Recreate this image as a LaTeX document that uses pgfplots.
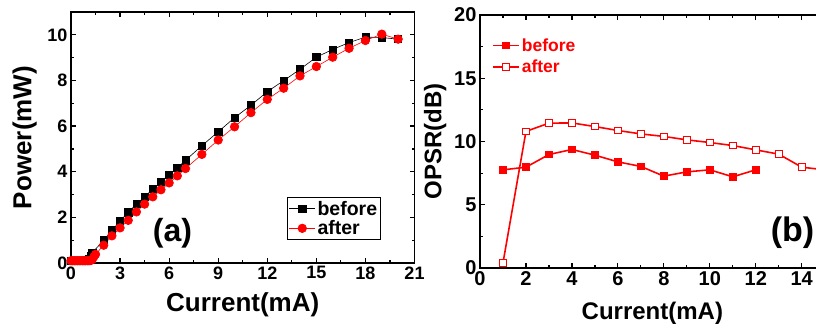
\documentclass[border=0pt]{standalone}
\usepackage{pgfplots}
\pgfplotsset{compat=1.18}
\usepackage{fontspec}
\setmainfont{Liberation Sans}

\definecolor{pred}{RGB}{255,0,0}

\pgfplotsset{
  origin/.style={
    scale only axis,
    axis line style={line width=1.5pt},
    tick align=inside,
    major tick length=5pt,
    minor tick length=3pt,
    every tick/.style={black,line width=1.2pt},
    minor tick num=1,
    /pgf/number format/assume math mode=true,
    legend cell align=left,
    legend image code/.code={
      \draw[mark repeat=2,mark phase=2,##1]
        plot coordinates {(0pt,0pt) (13pt,0pt) (26pt,0pt)};},
  }
}

\begin{document}
\begin{tikzpicture}
\useasboundingbox (0,0) rectangle (816pt,330pt);
\clip (0,0) rectangle (816pt,330pt);

% ---------- (a) output power ----------
\begin{axis}[origin,
  at={(71pt,67pt)}, anchor=south west,
  width=343.5pt, height=251pt,
  xmin=0, xmax=21, ymin=0, ymax=11,
  xtick={0,3,...,21}, ytick={0,2,...,10},
  tick label style={font=\fontsize{18}{18}\selectfont\bfseries},
  label style={font=\fontsize{26}{26}\selectfont\bfseries},
  xlabel={Current(mA)}, ylabel={Power(mW)},
  every axis x label/.append style={at={(axis description cs:0.5,-0.165)},anchor=center},
  every axis y label/.append style={at={(axis description cs:-0.135,0.5)},anchor=center,rotate=0},
  legend style={at={(axis description cs:0.629,0.263)},anchor=north west,
    draw=black,line width=0.8pt,font=\fontsize{19.5}{19.5}\selectfont\bfseries,
    inner sep=1.5pt,row sep=0pt},
]
\addplot[black,line width=0.6pt,mark=square*,mark size=3.6pt,mark options={solid}]
coordinates {
(0,0.1)(0.1,0.1)(0.2,0.1)(0.3,0.1)(0.4,0.1)(0.5,0.1)(0.6,0.1)(0.7,0.1)(0.8,0.1)(0.9,0.1)
(1.0,0.12)(1.1,0.2)(1.2,0.32)(1.3,0.45)
(2,1.0)(2.5,1.43)(3,1.84)(3.5,2.22)(4,2.58)(4.5,2.9)(5,3.24)(5.5,3.57)(6,3.87)(6.5,4.17)(7,4.5)
(8,5.14)(9,5.75)(10,6.37)(11,6.91)(12,7.51)(13,7.99)(14,8.49)(15,9.02)(16,9.36)(17,9.66)
(18,9.9)(19,9.88)(20,9.81)};
\addlegendentry{before}
\addplot[pred,line width=0.6pt,mark=*,mark size=4.3pt,mark options={solid,fill=pred,draw=pred}]
coordinates {
(0,0.1)(0.1,0.1)(0.2,0.1)(0.3,0.1)(0.4,0.1)(0.5,0.1)(0.6,0.1)(0.7,0.1)(0.8,0.1)(0.9,0.1)
(1.0,0.1)(1.1,0.1)(1.2,0.11)(1.3,0.15)(1.4,0.28)(1.5,0.38)
(2,0.78)(2.5,1.19)(3,1.54)(3.5,1.87)(4,2.24)(4.5,2.58)(5,2.9)(5.5,3.21)(6,3.51)(6.5,3.82)(7,4.14)
(8,4.76)(9,5.39)(10,5.97)(11,6.59)(12,7.17)(13,7.66)(14,8.2)(15,8.61)(16,9.02)(17,9.41)
(18,9.75)(19,10.03)(20,9.81)};
\addlegendentry{after}
\node[font=\fontsize{32}{32}\selectfont\bfseries] at (axis cs:6.2,1.3) {(a)};
\end{axis}

% ---------- (b) OPSR ----------
\begin{axis}[origin,
  at={(480pt,62pt)}, anchor=south west,
  width=344.7pt, height=253pt,
  xmin=0, xmax=15, ymin=0, ymax=20,
  xtick={0,2,...,14}, ytick={0,5,...,20},
  tick label style={font=\fontsize{20}{20}\selectfont\bfseries},
  label style={font=\fontsize{24}{24}\selectfont\bfseries},
  xlabel={Current(mA)}, ylabel={OPSR(dB)},
  every axis x label/.append style={at={(axis description cs:0.5,-0.178)},anchor=center},
  every axis y label/.append style={at={(axis description cs:-0.13,0.5)},anchor=center,rotate=0},
  legend style={at={(axis description cs:0.032,0.92)},anchor=north west,
    draw=none,fill=none,font=\fontsize{17.5}{17.5}\selectfont\bfseries,text=pred,
    inner sep=1pt,row sep=3pt},
]
\addplot[pred,line width=1.6pt,mark=square*,mark size=3.3pt,mark options={solid,fill=pred,line width=1pt}]
coordinates {
(1,7.76)(2,7.97)(3,8.97)(4,9.37)(5,8.92)(6,8.39)(7,8.03)(8,7.26)(9,7.6)(10,7.76)(11,7.21)(12,7.76)};
\addlegendentry{before}
\addplot[pred,line width=1.6pt,mark=square*,mark size=3.3pt,mark options={solid,fill=white,line width=1pt}]
coordinates {
(1,0.4)(2,10.8)(3,11.45)(4,11.47)(5,11.18)(6,10.87)(7,10.6)(8,10.4)(9,10.13)(10,9.92)
(11,9.68)(12,9.34)(13,9.0)(14,7.97)(15,7.76)};
\addlegendentry{after}
\node[font=\fontsize{34}{34}\selectfont\bfseries] at (axis cs:13.6,2.8) {(b)};
\end{axis}
\end{tikzpicture}
\end{document}
